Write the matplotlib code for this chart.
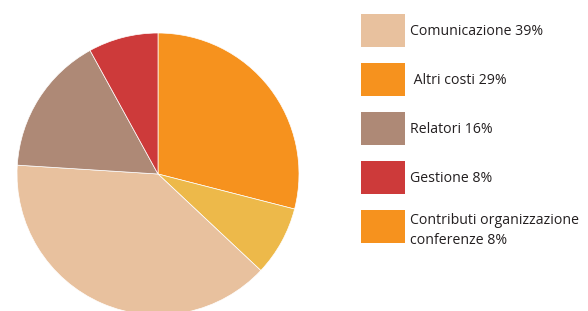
import matplotlib.pyplot as plt
from matplotlib.patches import Rectangle

# slices, clockwise from the top
slice_names = ['Altri costi', 'Contributi organizzazione conferenze', 'Comunicazione', 'Relatori', 'Gestione']
slice_values = [29, 8, 39, 16, 8]
slice_colors = ['#F6921E', '#EDB94A', '#E8C19E', '#AE8976', '#CD3A3A']

# legend entries (as printed on the chart)
legend_labels = ['Comunicazione 39%', ' Altri costi 29%', 'Relatori 16%', 'Gestione 8%',
                 'Contributi organizzazione\nconferenze 8%']
legend_colors = ['#E8C19E', '#F6921E', '#AE8976', '#CD3A3A', '#F6921E']

W, H = 588, 311
fig = plt.figure(figsize=(W / 100, H / 100), dpi=100)

# pie: center (158,174) px, radius 141 px
ax = fig.add_axes([17 / W, (H - 315) / H, 282 / W, 282 / H])
ax.pie(slice_values, colors=slice_colors, startangle=90, counterclock=False,
       radius=1, wedgeprops=dict(edgecolor='white', linewidth=0.5))
ax.set_xlim(-1, 1)
ax.set_ylim(-1, 1)
ax.axis('off')

# legend drawn by hand in pixel positions
for i, (lab, col) in enumerate(zip(legend_labels, legend_colors)):
    top = 14 + i * 49
    fig.patches.append(Rectangle((361 / W, 1 - (top + 33) / H), 44 / W, 33 / H,
                                 transform=fig.transFigure, facecolor=col, edgecolor='none'))
    yc = top + 17.5 if '\n' not in lab else top + 20.5
    fig.text(410 / W, 1 - yc / H, lab, fontsize=10.2, family='Open Sans', color='#231F20',
             va='center', ha='left', linespacing=1.45)

fig.savefig('out.png', dpi=100)
